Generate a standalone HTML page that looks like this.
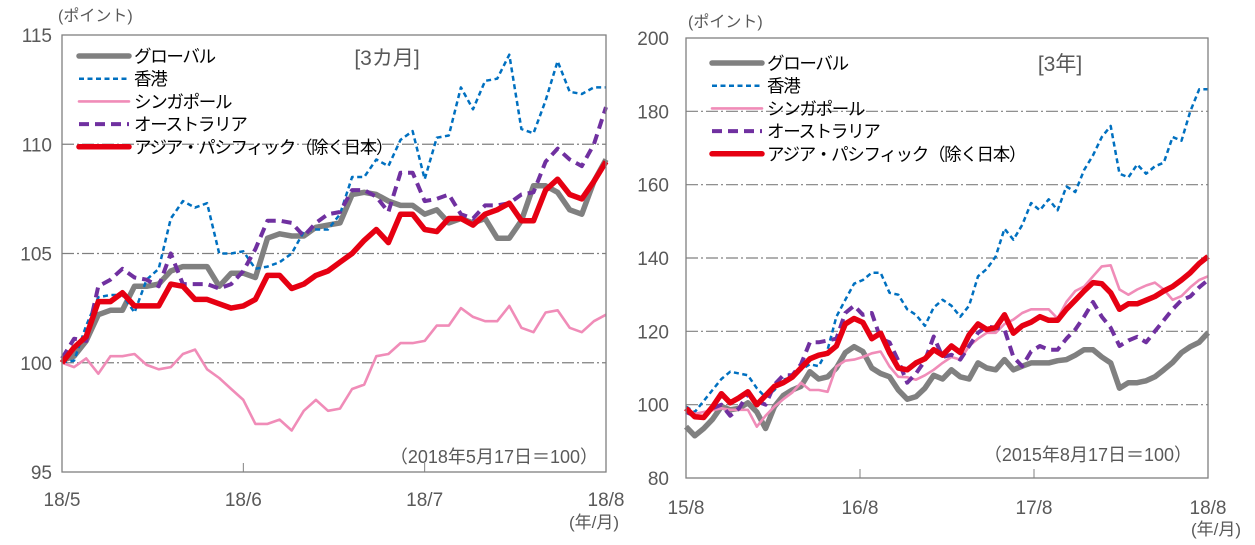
<!DOCTYPE html>
<html><head><meta charset="utf-8">
<style>
html,body{margin:0;padding:0;background:#fff;}
svg{display:block;font-family:"Liberation Sans","Noto Sans CJK JP",sans-serif;}
.tick{fill:#595959;font-size:19px;}
.leg{fill:#000;font-size:17.5px;letter-spacing:-1.3px;}
</style></head>
<body>
<svg id="chart" width="1255" height="545" viewBox="0 0 1255 545" xmlns="http://www.w3.org/2000/svg">
  <g id="left"></g>
  <g id="right"></g>
</svg>
<script>
// ---- Left chart (3 months) data ----
const leftXLabels = ["18/5","18/6","18/7","18/8"];
const leftYTicks = [95,100,105,110,115];
const leftGlobal = [100.1,100.3,101.0,102.2,102.4,102.4,103.5,103.5,103.6,104.2,104.4,104.4,104.4,103.5,104.1,104.1,103.9,105.7,105.9,105.8,105.8,106.2,106.3,106.4,107.7,107.8,107.7,107.4,107.2,107.2,106.8,107.0,106.4,106.6,106.4,106.6,105.7,105.7,106.5,108.1,108.1,107.8,107.0,106.8,108.3,109.3];
const leftHK = [100,100.1,101.7,103.0,103.1,103.1,102.3,103.8,104.3,106.6,107.4,107.1,107.3,105.0,105.0,105.1,104.3,104.4,104.6,105.0,106.0,106.1,106.1,106.8,108.5,108.5,109.3,109.0,110.2,110.6,108.4,110.3,110.4,112.6,111.6,112.9,113.0,114.1,110.7,110.5,112.0,113.8,112.4,112.3,112.6,112.6];
const leftSG = [100.0,99.8,100.2,99.5,100.3,100.3,100.4,99.9,99.7,99.8,100.4,100.6,99.7,99.3,98.8,98.3,97.2,97.2,97.4,96.9,97.8,98.3,97.8,97.9,98.8,99.0,100.3,100.4,100.9,100.9,101.0,101.7,101.7,102.5,102.1,101.9,101.9,102.6,101.6,101.4,102.3,102.4,101.6,101.4,101.9,102.2];
const leftAU = [100.2,101.1,101.0,103.5,103.8,104.3,103.9,103.8,103.5,105.0,103.6,103.6,103.6,103.4,103.6,104.2,105.2,106.5,106.5,106.4,105.8,106.4,106.8,106.9,107.9,107.9,107.6,106.9,108.7,108.7,107.4,107.5,107.7,106.8,106.6,107.2,107.2,107.3,107.7,107.8,109.2,109.8,109.3,109.0,110.0,111.7];
const leftAP = [100.0,100.7,101.2,102.8,102.8,103.2,102.6,102.6,102.6,103.6,103.5,102.9,102.9,102.7,102.5,102.6,102.9,104.0,104.0,103.4,103.6,104.0,104.2,104.6,105.0,105.6,106.1,105.5,106.8,106.8,106.1,106.0,106.6,106.6,106.3,106.8,107.0,107.3,106.5,106.5,107.9,108.4,107.7,107.5,108.3,109.2];

// ---- Right chart (3 years) data ----
const rightXLabels = ["15/8","16/8","17/8","18/8"];
const rightYTicks = [80,100,120,140,160,180,200];
const rightGlobal = [94,91.5,93.5,96,99.5,98.6,99,100.5,98,93.5,99.5,102.5,104,105,109,107,107.6,110,114.2,115.8,114.5,110,108.5,107.6,104,101.5,102.2,104.5,108,107,109.5,107.6,107,111.4,110,109.5,112.3,109.5,110.5,111.4,111.4,111.4,112,112.3,113.5,115,115,113,111.4,104.5,106,106,106.5,107.6,109.5,111.5,114.2,115.8,117,119.6];
const rightHK = [99.5,98,101,104,107,109,108.5,108,104.5,102,104,106.8,107.5,109.5,111,110.5,115,124,128.6,133,134,136,136,130.5,130,126,124.5,121.5,126.5,128.6,127,124,127,135,137,140.4,148,145,149,155,153,156,153,159.5,158,164,168,173,176,163,162,165.5,163,165,166,173,172,180,186,186];
const rightSG = [99,97.5,98,98.5,99,98.6,98.6,98.6,94,97,99.5,101.5,103.3,106,104,104,103.5,110.4,112,112.3,113,114,114.5,110.4,107.6,107.5,106.8,108,109.5,111.4,113,112.3,116,118,119.6,119.6,122,123.2,125,126,126,126,123.5,128,131,132.2,135,137.7,138,131.4,130,131.4,132.5,133.3,131.4,128.6,129.6,132,134,135];
const rightAU = [98,97,96.5,99,100,97,99,103,101,100,105.5,108,108,111,117,117,117.5,118,125,127,124.5,125,118,117,112,106,108.5,112,118.6,113,113.6,112.3,116,119.6,121.3,121,120.5,113,110.5,114.5,116,115,115,118,120.5,124,128,124,121,116,117.5,118.5,117,120,123,126,128.5,129.5,132,134];
const rightAP = [99,96.7,96.5,99.4,103,100.5,101.9,103.5,100,102.5,105,106,107.5,110,112.5,113.5,114,116,122,123.5,122.4,118,119.5,114.2,110,109.5,111.4,112.5,115,113.5,116,114.2,119,122,120.5,121,124.5,119.5,121.5,122.5,124,123,123,126,128.5,131,133.3,133,130.5,126,127.5,127.5,128.5,129.5,131,132.2,134,136,138.5,140.4];

const legendNames = ["グローバル","香港","シンガポール","オーストラリア","アジア・パシフィック（除く日本）"];

const NS = "http://www.w3.org/2000/svg";
function mk(parent, tag, attrs, text) {
  const el = document.createElementNS(NS, tag);
  for (const k in attrs) el.setAttribute(k, attrs[k]);
  if (text !== undefined) el.textContent = text;
  parent.appendChild(el);
  return el;
}

const styles = [
  {stroke:"#808080", w:5.5, dash:""},
  {stroke:"#0070c0", w:2.5, dash:"5 3.5"},
  {stroke:"#f08cb8", w:2.6, dash:""},
  {stroke:"#7030a0", w:4, dash:"10 6"},
  {stroke:"#e60012", w:5.5, dash:""}
];
const seriesKeys = ["global","hong-kong","singapore","australia","asia-pacific"];

function drawChart(g, cfg) {
  const {x0,x1,y0,y1,vmin,vmax,yTicks,xLabels,series} = cfg;
  const ys = v => y1 - (v - vmin) / (vmax - vmin) * (y1 - y0);
  const xs = (i, n) => x0 + i * (x1 - x0) / (n - 1);
  const xl = (i) => x0 + i * (x1 - x0) / (xLabels.length - 1);

  yTicks.forEach(t => {
    if (t !== vmin && t !== vmax) {
      const l = mk(g, "line", {x1:x0, x2:x1, y1:ys(t), y2:ys(t), stroke:"#808080", "stroke-width":1.2, "stroke-dasharray":"12 3 2 3"});
      
      
    }
    const tx = mk(g, "text", {x:cfg.yLabelX, y:ys(t)+7, "text-anchor":"end", class:"tick"}, String(t));
    
    
  });
  xLabels.forEach((lab, i) => {
    const x = xl(i);
    if (i > 0 && i < xLabels.length - 1) {
      const tk = mk(g, "line", {x1:x, x2:x, y1:y1, y2:y1-9, stroke:"#808080", "stroke-width":1});
      
      
    }
    const tx = mk(g, "text", {x:x, y:cfg.xLabelY, "text-anchor":"middle", class:"tick"}, lab);
    
    
  });
  series.forEach((arr, s) => {
    const st = styles[s];
    const d = arr.map((v, i) => (i ? "L" : "M") + xs(i, arr.length).toFixed(1) + " " + ys(v).toFixed(1)).join(" ");
    const p = mk(g, "path", {d:d, fill:"none", stroke:st.stroke, "stroke-width":st.w, "stroke-linejoin":"round", "stroke-dasharray":st.dash});
    
    
  });
  const fr = mk(g, "rect", {x:x0, y:y0, width:x1-x0, height:y1-y0, fill:"none", stroke:"#808080", "stroke-width":1.3});
  
  
  const lg = mk(g, "g", {});
  
  
  legendNames.forEach((nm, s) => {
    const st = styles[s];
    const y = cfg.legY + s * 22.7;
    const e = mk(lg, "g", {});
    
    
    mk(e, "line", {x1:cfg.legX, x2:cfg.legX+50, y1:y, y2:y, stroke:st.stroke, "stroke-width":st.w, "stroke-dasharray":st.dash, "stroke-linecap": s===1||s===3 ? "butt":"round"});
    mk(e, "text", {x:cfg.legX+55, y:y+6.5, class:"leg"}, nm);
  });
}

const L = document.getElementById("left");
drawChart(L, {x0:62,x1:606,y0:35,y1:472,vmin:95,vmax:115,yTicks:leftYTicks,xLabels:leftXLabels,
  series:[leftGlobal,leftHK,leftSG,leftAU,leftAP],yLabelX:52,xLabelY:506,legX:79,legY:56});
const R = document.getElementById("right");
drawChart(R, {x0:686,x1:1208,y0:38,y1:478,vmin:80,vmax:200,yTicks:rightYTicks,xLabels:rightXLabels,
  series:[rightGlobal,rightHK,rightSG,rightAU,rightAP],yLabelX:669,xLabelY:514,legX:712,legY:63});

const ann = [
  [L, 58, 21, "(ポイント)", "start", 16, "left-y-unit"],
  [L, 387, 65, "[3カ月]", "middle", 21, "left-period-label"],
  [L, 598, 463, "（2018年5月17日＝100）", "end", 18, "left-base-note"],
  [L, 594, 528, "(年/月)", "middle", 17, "left-x-unit"],
  [R, 688, 27, "(ポイント)", "start", 16, "right-y-unit"],
  [R, 1060, 71, "[3年]", "middle", 21, "right-period-label"],
  [R, 1192, 461, "（2015年8月17日＝100）", "end", 18, "right-base-note"],
  [R, 1216, 535, "(年/月)", "middle", 17, "right-x-unit"]
];
ann.forEach(a => {
  const t = mk(a[0], "text", {x:a[1], y:a[2], "text-anchor":a[4], fill:"#595959", "font-size":a[5]}, a[3]);
  
  
});
</script>
</body></html>
